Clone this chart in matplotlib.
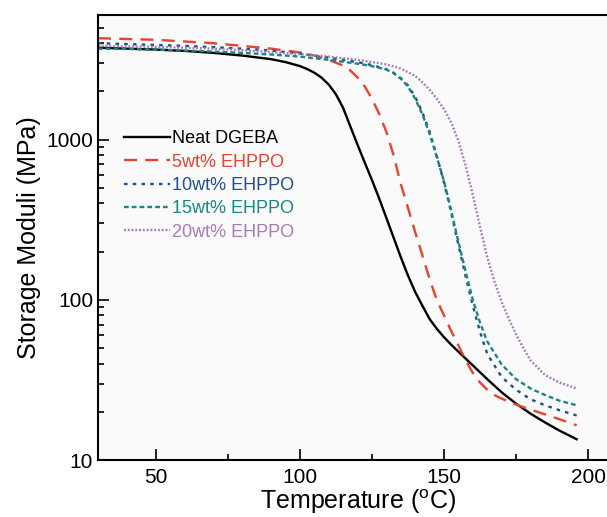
"""
    Storage moduli vs temperature (DMA) for DGEBA / EHPPO blends
"""
from matplotlib import pyplot as plt
from matplotlib.ticker import FixedLocator, NullFormatter, FuncFormatter

plt.rcParams['font.family'] = ['Liberation Sans', 'DejaVu Sans']
plt.rcParams['mathtext.fontset'] = 'custom'
plt.rcParams['mathtext.rm'] = 'Liberation Sans'

'''  curve data read off the figure: temperature (C) and modulus (MPa) '''
labels = ['Neat DGEBA', '5wt% EHPPO', '10wt% EHPPO', '15wt% EHPPO',
          '20wt% EHPPO']

t_neat = [30, 40, 50, 60, 70, 80, 90, 95, 100, 102.5, 105, 107.5, 110, 112.5,
          115, 117.5, 120, 122.5, 125, 127.5, 130, 132.5, 135, 137.5, 140,
          142.5, 145, 147.5, 150, 152.5, 155, 160, 165, 170, 175, 180, 185,
          190, 196]
e_neat = [3750, 3700, 3650, 3580, 3480, 3350, 3180, 3050, 2880, 2760, 2620,
          2440, 2210, 1920, 1580, 1210, 930, 720, 560, 430, 325, 245, 185,
          142, 112, 92, 76, 66, 58.5, 52.5, 47.5, 39, 32, 26.5, 22.5, 19.5,
          17.2, 15.3, 13.5]

t_5 = [30, 40, 50, 60, 70, 80, 90, 100, 105, 110, 115, 117.5, 120, 122.5,
       125, 127.5, 130, 132.5, 135, 137.5, 140, 142.5, 145, 147.5, 150, 152.5,
       155, 157.5, 160, 162.5, 165, 167.5, 170, 175, 180, 185, 190, 196]
e_5 = [4300, 4250, 4200, 4100, 4000, 3850, 3700, 3500, 3350, 3150, 2900,
       2700, 2450, 2150, 1800, 1450, 1120, 800, 530, 375, 265, 190, 135, 100,
       80, 64, 52, 42, 35, 30.5, 27.5, 25.5, 24.2, 22.2, 20.7, 19.3, 18, 16.5]

t_10 = [30, 40, 50, 60, 70, 80, 90, 100, 110, 120, 125, 130, 132.5, 135,
        137.5, 140, 142.5, 145, 147.5, 150, 152.5, 155, 157.5, 160, 162.5,
        165, 170, 175, 180, 185, 190, 196]
e_10 = [4000, 3950, 3900, 3850, 3780, 3700, 3600, 3450, 3250, 3050, 2920,
        2750, 2620, 2420, 2180, 1850, 1480, 1120, 790, 540, 350, 220, 140,
        92, 63, 46, 33, 27.5, 24, 22, 20.5, 19]

t_15 = [30, 40, 50, 60, 70, 80, 90, 100, 110, 120, 125, 130, 132.5, 135,
        137.5, 140, 142.5, 145, 147.5, 150, 152.5, 155, 157.5, 160, 162.5,
        165, 170, 175, 180, 185, 190, 196]
e_15 = [3700, 3680, 3650, 3600, 3550, 3480, 3400, 3300, 3150, 2980, 2880,
        2740, 2600, 2400, 2150, 1800, 1440, 1090, 780, 550, 360, 230, 150,
        100, 72, 55, 39.5, 32, 28, 25.5, 23.5, 22]

t_20 = [30, 40, 50, 60, 70, 80, 90, 100, 110, 120, 130, 135, 140, 142.5, 145,
        147.5, 150, 152.5, 155, 157.5, 160, 162.5, 165, 167.5, 170, 172.5,
        175, 177.5, 180, 185, 190, 196]
e_20 = [3850, 3820, 3800, 3750, 3700, 3620, 3520, 3420, 3300, 3150, 2950,
        2780, 2500, 2280, 2050, 1800, 1550, 1280, 980, 690, 450, 285, 185,
        130, 97, 76, 61, 50, 42, 34, 30.5, 28]

x_major = [50, 100, 150, 200]
x_minor = [75, 125, 175]
y_major = [10, 100, 1000]

colors = ['black', '#e8432c', '#1f4f8f', '#1a8585', '#a77bb8']
styles = ['-', (0, (5.5, 3.5)), (0, (1.5, 2.2)), (0, (2, 1.3)),
          (0, (0.8, 0.8))]

fig = plt.figure(figsize=(6.07, 5.17), dpi=100)
ax = fig.add_axes([0.1615, 0.110, 0.855, 0.861])
ax.set_facecolor('#fafafa')

curves = [(t_neat, e_neat), (t_5, e_5), (t_10, e_10), (t_15, e_15),
          (t_20, e_20)]
for (t, e), lab, c, ls in zip(curves, labels, colors, styles):
    ax.plot(t, e, color=c, linestyle=ls, linewidth=1.7, label=lab)

ax.set_yscale('log')
ax.set_xlim(30, 210)
ax.set_ylim(10, 6000)

ax.xaxis.set_major_locator(FixedLocator(x_major))
ax.xaxis.set_minor_locator(FixedLocator(x_minor))
ax.yaxis.set_major_locator(FixedLocator(y_major))
ax.yaxis.set_major_formatter(FuncFormatter(lambda v, p: '%d' % v))
ax.yaxis.set_minor_formatter(NullFormatter())
ax.tick_params(which='both', direction='in', labelsize=15, width=1.2)
ax.tick_params(which='major', length=8)
ax.tick_params(which='minor', length=4)
ax.tick_params(axis='x', pad=6)
for s in ax.spines.values():
    s.set_linewidth(1.5)

ax.set_xlabel(r'Temperature ($^{\mathrm{o}}$C)', fontsize=18, labelpad=0)
ax.set_ylabel('Storage Moduli (MPa)', fontsize=18, labelpad=4)

leg = ax.legend(loc='upper left', bbox_to_anchor=(0.037, 0.757),
                frameon=False, fontsize=13, handlelength=2.5,
                handletextpad=0.15, labelspacing=0.35, borderaxespad=0)
for txt, c in zip(leg.get_texts(), colors):
    txt.set_color(c)

fig.savefig('out.png', dpi=100)
